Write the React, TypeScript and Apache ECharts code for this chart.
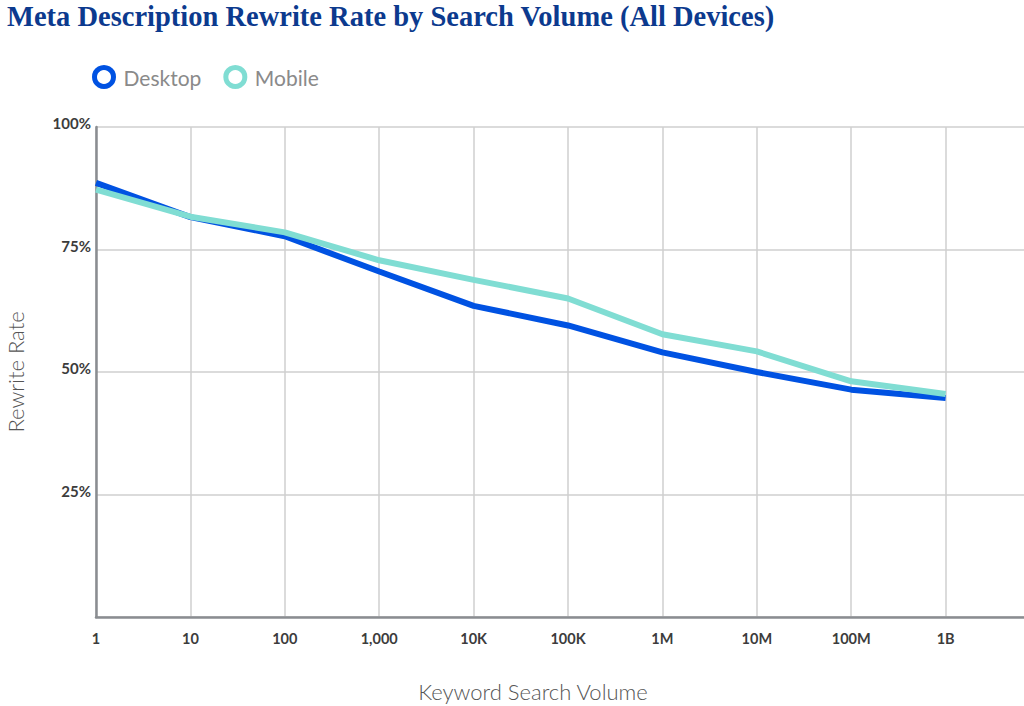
import React, { useEffect, useRef } from "react";
import * as echarts from "echarts";

const TITLE = "Meta Description Rewrite Rate by Search Volume (All Devices)";
const volumeLabels = ["1", "10", "100", "1,000", "10K", "100K", "1M", "10M", "100M", "1B"];
const desktopRates = [88.6, 81.6, 77.7, 70.5, 63.5, 59.5, 54.0, 50.0, 46.4, 44.7];
const mobileRates = [87.2, 81.7, 78.5, 72.8, 68.8, 65.0, 57.7, 54.2, 48.1, 45.5];
const yTicks = [0, 25, 50, 75, 100];

const DESKTOP_COLOR = "#0052E2";
const MOBILE_COLOR = "#80DDD3";

export default function App() {
  const ref = useRef<HTMLDivElement>(null);
  useEffect(() => {
    if (!ref.current) return;
    const chart = echarts.init(ref.current, null, { renderer: "svg" });
    const toPairs = (vals: number[]) => volumeLabels.map((_, i) => [i, vals[i]]);
    chart.setOption({
      animation: false,
      backgroundColor: "#ffffff",
      title: {
        text: TITLE,
        left: 2,
        top: -3,
        textStyle: {
          fontFamily: "Liberation Serif",
          fontWeight: "bold",
          fontSize: 28.5,
          color: "#0C3A8E",
        },
      },
      legend: {
        left: 87,
        top: 60,
        icon: "circle",
        itemWidth: 19,
        itemHeight: 19,
        itemGap: 22,
        textStyle: {
          fontFamily: "Lato",
          fontSize: 21,
          color: "#8a8a8a",
          padding: [0, 0, 0, 5],
        },
        data: [
          { name: "Desktop", itemStyle: { color: "#ffffff", borderColor: DESKTOP_COLOR, borderWidth: 5 } },
          { name: "Mobile", itemStyle: { color: "#ffffff", borderColor: MOBILE_COLOR, borderWidth: 5 } },
        ],
      },
      grid: { left: 96, top: 127, right: 0, bottom: 89, containLabel: false, outerBoundsMode: "none" },
      xAxis: {
        type: "value",
        min: 0,
        max: 9.83,
        interval: 1,
        name: "Keyword Search Volume",
        nameLocation: "middle",
        nameGap: 63,
        nameTextStyle: {
          fontFamily: "Lato",
          fontWeight: 300,
          fontSize: 22,
          color: "#555555",
          padding: [0, 54, 0, 0],
        },
        axisLine: { show: true, lineStyle: { color: "#8a8d91", width: 2.5 } },
        axisTick: { show: false },
        axisLabel: {
          margin: 14,
          fontFamily: "Lato",
          fontWeight: "bold",
          fontSize: 14.5,
          color: "#3c3c3c",
          showMaxLabel: false,
          formatter: (v: number) => (Number.isInteger(v) && volumeLabels[v] !== undefined ? volumeLabels[v] : ""),
        },
        splitLine: { show: true, showMaxLine: false, lineStyle: { color: "#cfcfcf", width: 1.5 } },
      },
      yAxis: {
        type: "value",
        min: yTicks[0],
        max: yTicks[yTicks.length - 1],
        interval: 25,
        name: "Rewrite Rate",
        nameLocation: "middle",
        nameGap: 70,
        nameTextStyle: {
          fontFamily: "Lato",
          fontWeight: 300,
          fontSize: 22,
          color: "#555555",
        },
        axisLine: { show: true, lineStyle: { color: "#8a8d91", width: 2.5 } },
        axisTick: { show: false },
        axisLabel: {
          margin: 5,
          fontFamily: "Lato",
          fontWeight: "bold",
          fontSize: 15,
          color: "#3c3c3c",
          verticalAlign: "bottom",
          lineHeight: 8,
          formatter: (v: number) => (v === 0 ? "" : v + "%"),
        },
        splitLine: { show: true, lineStyle: { color: "#cfcfcf", width: 1.5 } },
      },
      series: [
        {
          name: "Desktop",
          type: "line",
          data: toPairs(desktopRates),
          showSymbol: false,
          symbol: "none",
          lineStyle: { color: DESKTOP_COLOR, width: 6 },
          itemStyle: { color: DESKTOP_COLOR },
        },
        {
          name: "Mobile",
          type: "line",
          data: toPairs(mobileRates),
          showSymbol: false,
          symbol: "none",
          lineStyle: { color: MOBILE_COLOR, width: 6 },
          itemStyle: { color: MOBILE_COLOR },
        },
      ],
    });
    return () => chart.dispose();
  }, []);
  return (
    <div
      ref={ref}
      style={{ position: "fixed", left: 0, top: 0, width: 1024, height: 706, background: "#fff" }}
    />
  );
}
